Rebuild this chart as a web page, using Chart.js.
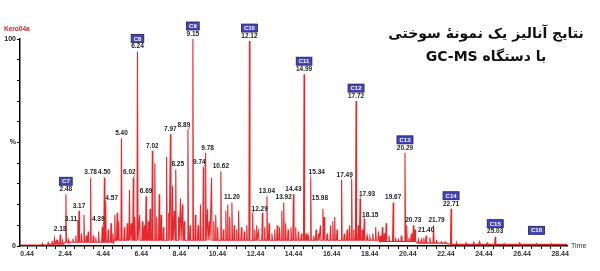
<!DOCTYPE html>
<html>
<head>
<meta charset="utf-8">
<script src="https://cdn.jsdelivr.net/npm/chart.js@4.4.0/dist/chart.umd.min.js"></script>
<style>
html, body { margin: 0; padding: 0; background: #fff; }
#wrap { position: relative; width: 600px; height: 271px; }
#title { position: absolute; right: 0px; top: 22px; width: 228px; text-align: center; direction: rtl;
  font: bold 14px "DejaVu Sans"; line-height: 23px; color: #111; }
</style>
</head>
<body>
<div id="wrap">
  <canvas id="myChart" width="600" height="271"></canvas>
  <div id="title">نتایج آنالیز یک نمونهٔ سوختی<br>با دستگاه GC-MS</div>
</div>
<script>
// retention times (min) and relative abundance (%) of the peaks
const peakTimes = [1.25, 1.55, 1.75, 1.88, 1.98, 2.05, 2.18, 2.3, 2.48, 2.6, 2.7, 2.85, 3.0, 3.11, 3.17, 3.3, 3.43, 3.55, 3.65, 3.78,
  3.92, 4.05, 4.2, 4.39, 4.5, 4.57, 4.7, 4.85, 4.95, 5.05, 5.17, 5.25, 5.4, 5.55, 5.7, 5.82, 5.92, 6.02, 6.1, 6.24,
  6.35, 6.5, 6.6, 6.69, 6.8, 6.9, 7.02, 7.15, 7.25, 7.38, 7.48, 7.6, 7.77, 7.88, 7.97, 8.08, 8.18, 8.25, 8.4, 8.5,
  8.6, 8.7, 8.89, 9.0, 9.15, 9.28, 9.42, 9.55, 9.7, 9.82, 9.92, 10.02, 10.13, 10.25, 10.35, 10.45, 10.62, 10.75, 10.88, 10.98,
  11.08, 11.2, 11.32, 11.45, 11.55, 11.7, 11.85, 11.98, 12.12, 12.29, 12.4, 12.5, 12.6, 12.8, 12.92, 13.04, 13.15, 13.3, 13.45, 13.58,
  13.7, 13.82, 13.92, 14.02, 14.15, 14.3, 14.43, 14.55, 14.7, 14.85, 14.99, 15.1, 15.2, 15.34, 15.5, 15.62, 15.75, 15.85, 15.98, 16.05,
  16.2, 16.38, 16.5, 16.6, 16.72, 16.96, 17.1, 17.25, 17.38, 17.49, 17.6, 17.72, 17.84, 17.93, 18.05, 18.15, 18.3, 18.45, 18.6, 18.75,
  18.9, 19.0, 19.1, 19.2, 19.3, 19.45, 19.67, 19.8, 19.95, 20.1, 20.29, 20.38, 20.5, 20.62, 20.73, 20.82, 21.0, 21.15, 21.28, 21.4,
  21.6, 21.79, 21.95, 22.2, 22.4, 22.71, 23.0, 23.5, 23.9, 24.2, 24.6, 25.03, 25.5, 26.3, 27.2, 28.0];
const peakHeights = [1.2, 1.5, 2.5, 3.5, 2.5, 3, 5.5, 2.5, 25, 3, 2, 3.5, 5, 12.5, 17, 6, 15, 5, 7, 33,
  5, 4, 7, 9, 33, 21, 8, 11, 6, 15, 16, 12, 52, 9, 11, 27, 11, 33, 14, 94,
  15, 12, 10, 24, 12, 18, 46, 40, 14, 25, 15, 9, 43, 16, 54, 29, 17, 37, 14, 23,
  20, 12, 56, 10, 100, 15, 10, 20, 38, 45, 18, 12, 33, 12, 15, 9, 36, 8, 17, 20,
  14, 21, 10, 8, 17, 9, 7, 10, 99, 16, 8, 10, 7, 16, 9, 24, 11, 6, 8, 10,
  9, 17, 21, 11, 8, 9, 25, 9, 7, 6, 83, 6, 5, 33, 5, 8, 6, 10, 18, 14,
  6, 10, 12, 14, 8, 32, 6, 8, 10, 32, 8, 70, 10, 23, 8, 13, 5, 4, 6, 9,
  7, 5, 9, 6, 11, 5, 21, 4, 3, 5, 45, 10, 4, 6, 10, 8, 3, 3, 4, 5,
  4, 10, 3, 2, 2, 18, 1.5, 1.5, 2.2, 2, 1.5, 4.5, 1.2, 1.5, 1.3, 1];

// baseline level (%) from each start time onward
const baseStarts = [0, 1.6, 2.4, 5, 19, 21, 22.5];
const baseLevels = [0.5, 0.9, 1.8, 2.8, 2.2, 1.4, 0.8];

const peakLabels = ['2.18', '2.48', '3.11', '3.17', '3.78', '4.39', '4.50', '4.57', '5.40', '6.02', '6.24', '6.69', '7.02',
  '7.97', '8.25', '8.89', '9.15', '9.74', '9.78', '10.62', '11.20', '12.12', '12.29', '13.04', '13.92', '14.43', '14.99',
  '15.34', '15.98', '17.49', '17.72', '17.93', '18.15', '19.67', '20.29', '20.73', '21.40', '21.79', '22.71', '25.03'];
const carbonNames = ['C7', 'C8', 'C9', 'C10', 'C11', 'C12', 'C13', 'C14', 'C15', 'C16'];
const carbonTimes = [2.48, 6.24, 9.15, 12.12, 14.99, 17.72, 20.29, 22.71, 25.03, 27.2];

const xTickLabels = [0.44, 2.44, 4.44, 6.44, 8.44, 10.44, 12.44, 14.44, 16.44, 18.44, 20.44, 22.44, 24.44, 26.44, 28.44];
const yTickValues = [0, 50, 100];
const yTickTexts = ['0', '%', '100'];

function baseAt(t) {
  let b = baseLevels[0];
  for (let i = 0; i < baseStarts.length; i++) if (t >= baseStarts[i]) b = baseLevels[i];
  return b;
}
// nearest peak to a time: [time, height]
function peakNear(t) {
  let k = -1, d = 1e9;
  peakTimes.forEach((p, i) => { if (Math.abs(p - t) < d) { d = Math.abs(p - t); k = i; } });
  return d < 0.07 ? [peakTimes[k], peakHeights[k]] : [t, baseAt(t)];
}

const trace = [{ x: 0.07, y: baseAt(0) }];
peakTimes.forEach((t, i) => {
  const b = baseAt(t);
  trace.push({ x: t - 0.03, y: b }, { x: t, y: peakHeights[i] }, { x: t + 0.03, y: b });
});
trace.push({ x: 28.8, y: 0.8 });

// label nudges in px [dx, dy]
const nudge = { '3.11': [-7, 4], '4.39': [-4, -3], '4.57': [6, 1], '6.02': [-4, 0], '8.25': [2, 0], '8.89': [-4, 0],
  '9.74': [-4, 0], '9.78': [2, 0], '12.29': [7, 1], '15.34': [6, 0], '15.98': [-3, -6], '17.49': [-7, 0], '17.93': [7, 1],
  '18.15': [6, 1], '21.79': [3, 0] };

const annot = {
  id: 'annot',
  afterDatasetsDraw(chart) {
    const c = chart.ctx, xs = chart.scales.x, ys = chart.scales.y;
    c.save();
    c.textAlign = 'center';
    c.textBaseline = 'middle';
    peakLabels.forEach(l => {
      const pk = peakNear(parseFloat(l));
      const n = nudge[l] || [0, 0];
      const px = xs.getPixelForValue(pk[0]), py = ys.getPixelForValue(pk[1]);
      const lx = px + n[0], ly = py - 5 + n[1];
      c.font = 'bold 6.5px "Liberation Sans"';
      c.fillStyle = '#222';
      c.fillText(l, lx, ly);
      if (Math.abs(n[0]) >= 4) {
        c.strokeStyle = '#333'; c.lineWidth = 0.6;
        c.beginPath(); c.moveTo(lx - Math.sign(n[0]) * 6, ly + 2); c.lineTo(px, py); c.stroke();
      }
    });
    carbonNames.forEach((name, i) => {
      const pk = peakNear(carbonTimes[i]);
      const px = xs.getPixelForValue(pk[0]), py = ys.getPixelForValue(pk[1]);
      c.font = 'bold 6px "Liberation Sans"';
      const w = c.measureText(name).width + 5, h = 8;
      const by = py - 13;
      c.fillStyle = '#4545c4';
      c.fillRect(px - w / 2, by - h / 2, w, h);
      c.strokeStyle = '#1c1c50'; c.lineWidth = 0.8;
      c.strokeRect(px - w / 2, by - h / 2, w, h);
      c.fillStyle = '#fff';
      c.fillText(name, px, by + 0.5);
    });
    c.font = 'bold 6.5px "Liberation Sans"';
    c.fillStyle = '#e02424';
    c.textAlign = 'left';
    c.fillText('Kero04a', 4, 29);
    c.fillStyle = '#333';
    c.font = '7px "Liberation Sans"';
    c.fillText('Time', 571, ys.getPixelForValue(0));
    c.restore();
  }
};

const ctx = document.getElementById('myChart').getContext('2d');
const myChart = new Chart(ctx, {
  type: 'line',
  data: {
    datasets: [{
      data: trace,
      borderColor: '#e8262b',
      borderWidth: 1.1,
      pointRadius: 0,
      tension: 0,
      fill: false
    }]
  },
  options: {
    responsive: false,
    animation: false,
    layout: { padding: { top: 39, right: 33, left: 0, bottom: 0 } },
    plugins: { legend: { display: false }, tooltip: { enabled: false } },
    scales: {
      x: {
        type: 'linear',
        min: 0.07,
        max: 28.8,
        afterBuildTicks: axis => {
          const ticks = [];
          for (let v = 0.44; v <= 28.8; v += 0.5) ticks.push({ value: +v.toFixed(2) });
          axis.ticks = ticks;
        },
        afterFit: s => { s.height = 25; },
        ticks: {
          autoSkip: false,
          maxRotation: 0,
          padding: 1,
          color: '#333',
          font: { size: 7, family: 'Liberation Sans', weight: 'bold' },
          callback: v => xTickLabels.some(l => Math.abs(l - v) < 0.001) ? v.toFixed(2) : ''
        },
        grid: { drawOnChartArea: false, tickLength: 3, color: '#000' },
        border: { color: '#000', width: 1.5 }
      },
      y: {
        min: 0,
        max: 100,
        afterBuildTicks: axis => {
          const ticks = [];
          for (let v = 0; v <= 100; v += 10) ticks.push({ value: v });
          axis.ticks = ticks;
        },
        afterFit: s => { s.width = 20; },
        ticks: {
          padding: 1,
          color: '#222',
          font: { size: 7, family: 'Liberation Sans', weight: 'bold' },
          callback: v => { const i = yTickValues.indexOf(v); return i >= 0 ? yTickTexts[i] : ''; }
        },
        grid: { drawOnChartArea: false, tickLength: 3, color: '#000' },
        border: { color: '#000', width: 1.5 }
      }
    }
  },
  plugins: [annot]
});
</script>
</body>
</html>
